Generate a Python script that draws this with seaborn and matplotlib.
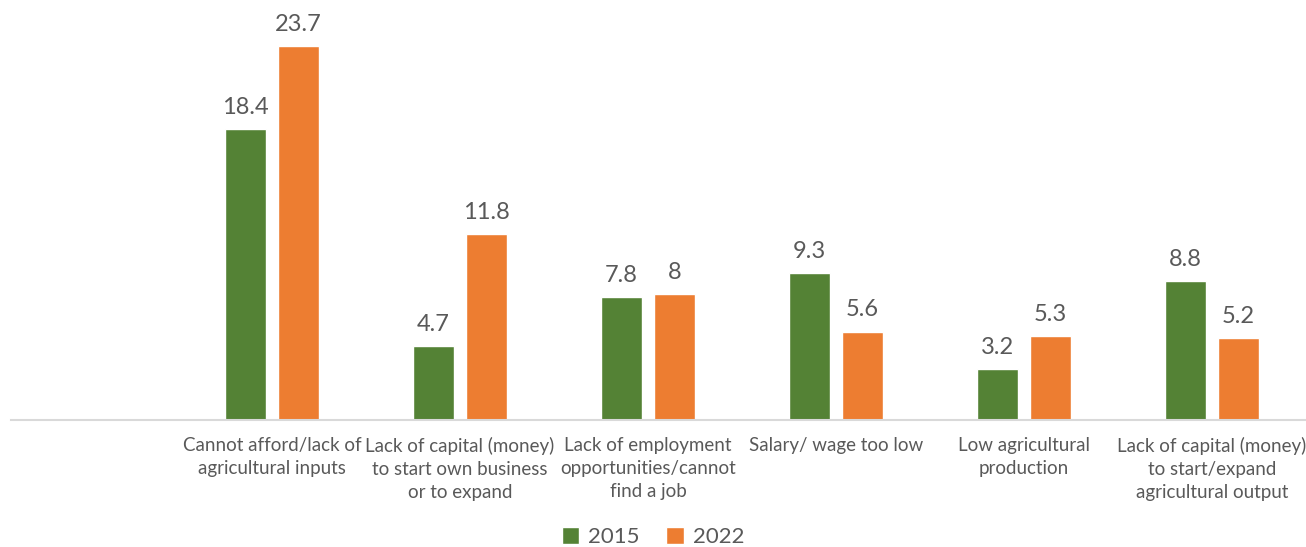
import numpy as np
import pandas as pd
import matplotlib
matplotlib.use("Agg")
import matplotlib.pyplot as plt
import seaborn as sns

categories = [
    "Cannot afford/lack of\nagricultural inputs",
    "Lack of capital (money)\nto start own business\nor to expand",
    "Lack of employment\nopportunities/cannot\nfind a job",
    "Salary/ wage too low",
    "Low agricultural\nproduction",
    "Lack of capital (money)\nto start/expand\nagricultural output",
]
years = ["2015", "2022"]
values_2015 = [18.4, 4.7, 7.8, 9.3, 3.2, 8.8]
values_2022 = [23.7, 11.8, 8, 5.6, 5.3, 5.2]

df = pd.DataFrame({
    "category": categories * 2,
    "year": [years[0]] * len(categories) + [years[1]] * len(categories),
    "value": values_2015 + values_2022,
})

sns.set_theme(style="white")
plt.rcParams["font.family"] = ["Lato", "DejaVu Sans"]
text_color = "#595959"

fig = plt.figure(figsize=(13.06, 5.47), dpi=100)
ax = fig.add_axes([11 / 1306, 127 / 547, 1295 / 1306, 420 / 547])

# leading blank slot, like the original sheet
order = [" "] + categories
sns.barplot(data=df, x="category", y="value", hue="year", order=order,
            palette=["#548235", "#ED7D31"], width=0.564, gap=0.226,
            saturation=1, ax=ax, legend=True)

for c in ax.containers:
    ax.bar_label(c, fmt="%g", padding=8, fontsize=17, color=text_color)

ax.set_xlim(-0.388, 6.5)
ax.set_ylim(0, 26.6)
ax.set_xlabel("")
ax.set_ylabel("")
ax.set_yticks([])
ax.tick_params(axis="x", length=0, pad=12, labelsize=13.5, labelcolor=text_color)
for lbl in ax.get_xticklabels():
    lbl.set_linespacing(1.45)
for side in ["top", "right", "left"]:
    ax.spines[side].set_visible(False)
ax.spines["bottom"].set_color("#d9d9d9")
ax.spines["bottom"].set_linewidth(1.5)

handles, labels = ax.get_legend_handles_labels()
ax.legend_.remove()
fig.legend(handles, labels, loc="center", bbox_to_anchor=(0.5, 10 / 547),
           ncol=2, frameon=False, fontsize=16, labelcolor=text_color,
           handlelength=0.8, handleheight=0.8, handletextpad=0.4, columnspacing=1.2)

fig.savefig("out.png", dpi=100)
